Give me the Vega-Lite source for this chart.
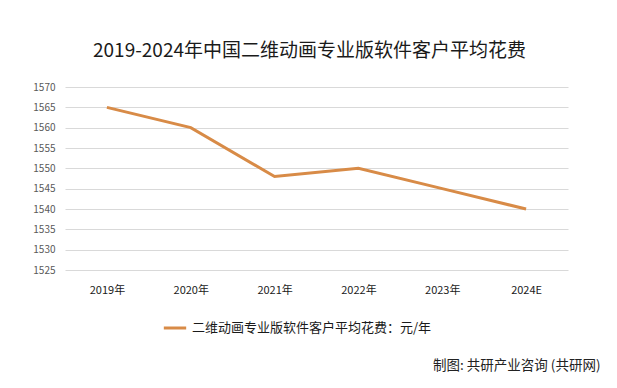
{
  "$schema": "https://vega.github.io/schema/vega-lite/v6.json",
  "autosize": {"type": "none"},
  "width": 503,
  "height": 183,
  "padding": {"left": 65, "top": 87, "right": 49, "bottom": 118},
  "background": "white",
  "title": {
    "text": "2019-2024年中国二维动画专业版软件客户平均花费",
    "font": "Noto Sans CJK SC",
    "fontSize": 19,
    "fontWeight": "normal",
    "color": "#1a1a1a",
    "anchor": "middle",
    "frame": "group",
    "dx": -7,
    "offset": 21
  },
  "data": {
    "values": [
      {"year": "2019年", "value": 1565, "series": "二维动画专业版软件客户平均花费：元/年"},
      {"year": "2020年", "value": 1560, "series": "二维动画专业版软件客户平均花费：元/年"},
      {"year": "2021年", "value": 1548, "series": "二维动画专业版软件客户平均花费：元/年"},
      {"year": "2022年", "value": 1550, "series": "二维动画专业版软件客户平均花费：元/年"},
      {"year": "2023年", "value": 1545, "series": "二维动画专业版软件客户平均花费：元/年"},
      {"year": "2024E", "value": 1540, "series": "二维动画专业版软件客户平均花费：元/年"}
    ]
  },
  "mark": {"type": "line", "strokeWidth": 3, "strokeCap": "butt"},
  "encoding": {
    "x": {
      "field": "year",
      "type": "ordinal",
      "sort": null,
      "scale": {"type": "point", "padding": 0.5},
      "axis": {
        "title": "制图: 共研产业咨询 (共研网)",
        "titleFont": "Noto Sans CJK SC",
        "titleFontSize": 13.5,
        "titleFontWeight": "normal",
        "titleColor": "#222222",
        "titleAnchor": "end",
        "titleAlign": "right",
        "titleBaseline": "middle",
        "titleX": 535,
        "titleY": 95,
        "labelAngle": 0,
        "labelFont": "Noto Sans CJK SC",
        "labelFontSize": 11,
        "labelColor": "#1a1a1a",
        "labelPadding": 14,
        "domain": false,
        "ticks": false,
        "grid": false
      }
    },
    "y": {
      "field": "value",
      "type": "quantitative",
      "scale": {"domain": [1525, 1570], "nice": false, "zero": false},
      "axis": {
        "title": null,
        "format": "d",
        "values": [1525, 1530, 1535, 1540, 1545, 1550, 1555, 1560, 1565, 1570],
        "labelFont": "Noto Sans CJK SC",
        "labelFontSize": 10,
        "labelColor": "#595959",
        "labelPadding": 10,
        "domain": false,
        "ticks": false,
        "grid": true,
        "gridColor": "#d9d9d9",
        "gridWidth": 1
      }
    },
    "color": {
      "field": "series",
      "type": "nominal",
      "scale": {"range": ["#D88B47"]},
      "legend": {
        "title": null,
        "orient": "none",
        "legendX": 97,
        "legendY": 228,
        "symbolType": "stroke",
        "symbolSize": 500,
        "symbolStrokeWidth": 3,
        "labelFont": "Noto Sans CJK SC",
        "labelFontSize": 13,
        "labelColor": "#1a1a1a",
        "labelLimit": 400,
        "labelOffset": 4
      }
    }
  },
  "config": {"view": {"stroke": null}}
}
